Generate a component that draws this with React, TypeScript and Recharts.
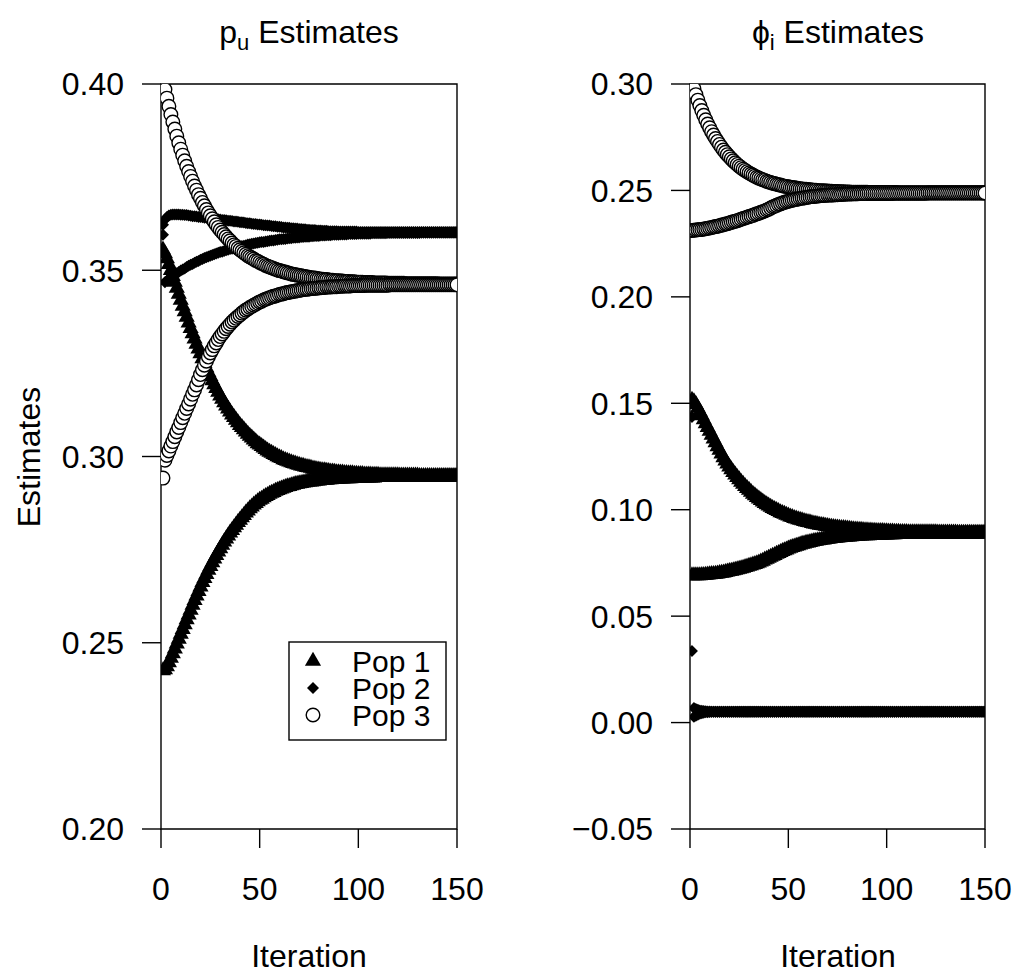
import React from "react";
import { ScatterChart, Scatter, XAxis, YAxis, ReferenceArea } from "recharts";

// p_u estimates (left panel), two starting points per population
const PU_POP1_A = [
  0.3555, 0.3545, 0.3531, 0.3516, 0.35, 0.3484, 0.3468, 0.3452, 0.3436, 0.342,
  0.3404, 0.3389, 0.3374, 0.3359, 0.3344, 0.333, 0.3316, 0.3302, 0.3289, 0.3276,
  0.3263, 0.325, 0.3238, 0.3226, 0.3215, 0.3204, 0.3193, 0.3183, 0.3173, 0.3163,
  0.3154, 0.3145, 0.3136, 0.3128, 0.312, 0.3112, 0.3105, 0.3098, 0.3091, 0.3084,
  0.3078, 0.3072, 0.3066, 0.306, 0.3055, 0.305, 0.3045, 0.304, 0.3035, 0.3031,
  0.3027, 0.3023, 0.3019, 0.3015, 0.3012, 0.3009, 0.3006, 0.3003, 0.3, 0.2997,
  0.2995, 0.2992, 0.299, 0.2988, 0.2986, 0.2984, 0.2982, 0.298, 0.2978, 0.2977,
  0.2975, 0.2974, 0.2972, 0.2971, 0.297, 0.2969, 0.2967, 0.2966, 0.2965, 0.2964,
  0.2963, 0.2962, 0.2962, 0.2961, 0.296, 0.2959, 0.2959, 0.2958, 0.2957, 0.2957,
  0.2956, 0.2956, 0.2955, 0.2955, 0.2954, 0.2954, 0.2954, 0.2953, 0.2953, 0.2952,
  0.2952, 0.2952, 0.2951, 0.2951, 0.2951, 0.2951, 0.295, 0.295, 0.295, 0.295,
  0.2949, 0.2949, 0.2949, 0.2949, 0.2949, 0.2949, 0.2949, 0.2949, 0.2949, 0.2949,
  0.2948, 0.2948, 0.2948, 0.2948, 0.2948, 0.2948, 0.2948, 0.2948, 0.2948, 0.2948,
  0.2947, 0.2947, 0.2947, 0.2947, 0.2947, 0.2947, 0.2947, 0.2947, 0.2947, 0.2947,
  0.2947, 0.2947, 0.2947, 0.2947, 0.2947, 0.2947, 0.2947, 0.2947, 0.2947, 0.2947,
];
const PU_POP1_B = [
  0.2425, 0.2428, 0.2436, 0.2447, 0.2459, 0.2471, 0.2484, 0.2497, 0.251, 0.2523,
  0.2536, 0.2549, 0.2562, 0.2575, 0.2588, 0.2601, 0.2614, 0.2626, 0.2638, 0.265,
  0.2662, 0.2673, 0.2684, 0.2695, 0.2705, 0.2715, 0.2725, 0.2735, 0.2744, 0.2753,
  0.2762, 0.2771, 0.2779, 0.2787, 0.2795, 0.2802, 0.2809, 0.2816, 0.2823, 0.2829,
  0.2836, 0.2842, 0.2849, 0.2854, 0.286, 0.2865, 0.287, 0.2874, 0.2879, 0.2883,
  0.2886, 0.289, 0.2893, 0.2896, 0.2899, 0.2902, 0.2904, 0.2907, 0.2909, 0.2911,
  0.2913, 0.2915, 0.2917, 0.2919, 0.292, 0.2922, 0.2923, 0.2925, 0.2926, 0.2927,
  0.2928, 0.2929, 0.293, 0.2931, 0.2932, 0.2932, 0.2933, 0.2934, 0.2935, 0.2935,
  0.2936, 0.2936, 0.2937, 0.2937, 0.2938, 0.2938, 0.2939, 0.2939, 0.2939, 0.294,
  0.294, 0.294, 0.2941, 0.2941, 0.2941, 0.2941, 0.2942, 0.2942, 0.2942, 0.2942,
  0.2942, 0.2943, 0.2943, 0.2943, 0.2943, 0.2943, 0.2943, 0.2943, 0.2944, 0.2944,
  0.2944, 0.2944, 0.2944, 0.2944, 0.2944, 0.2944, 0.2944, 0.2944, 0.2944, 0.2944,
  0.2944, 0.2944, 0.2944, 0.2944, 0.2944, 0.2945, 0.2945, 0.2945, 0.2945, 0.2945,
  0.2945, 0.2945, 0.2945, 0.2945, 0.2945, 0.2945, 0.2945, 0.2945, 0.2945, 0.2945,
  0.2945, 0.2945, 0.2945, 0.2945, 0.2945, 0.2945, 0.2945, 0.2945, 0.2945, 0.2945,
];
const PU_POP2_A = [
  0.3622, 0.3636, 0.3643, 0.3647, 0.3649, 0.365, 0.365, 0.365, 0.365, 0.3649,
  0.3649, 0.3648, 0.3648, 0.3647, 0.3646, 0.3645, 0.3645, 0.3644, 0.3643, 0.3643,
  0.3642, 0.3641, 0.3641, 0.364, 0.3639, 0.3639, 0.3638, 0.3637, 0.3637, 0.3636,
  0.3635, 0.3635, 0.3634, 0.3633, 0.3633, 0.3632, 0.3631, 0.3631, 0.363, 0.3629,
  0.3629, 0.3628, 0.3627, 0.3626, 0.3626, 0.3625, 0.3624, 0.3624, 0.3623, 0.3623,
  0.3622, 0.3621, 0.3621, 0.362, 0.362, 0.3619, 0.3618, 0.3618, 0.3617, 0.3617,
  0.3616, 0.3615, 0.3615, 0.3614, 0.3614, 0.3613, 0.3613, 0.3612, 0.3612, 0.3611,
  0.3611, 0.361, 0.361, 0.3609, 0.3609, 0.3608, 0.3608, 0.3608, 0.3607, 0.3607,
  0.3607, 0.3606, 0.3606, 0.3606, 0.3605, 0.3605, 0.3605, 0.3605, 0.3605, 0.3604,
  0.3604, 0.3604, 0.3604, 0.3604, 0.3604, 0.3604, 0.3604, 0.3604, 0.3604, 0.3603,
  0.3603, 0.3603, 0.3603, 0.3603, 0.3603, 0.3603, 0.3603, 0.3603, 0.3603, 0.3603,
  0.3603, 0.3603, 0.3603, 0.3603, 0.3603, 0.3603, 0.3603, 0.3603, 0.3603, 0.3603,
  0.3603, 0.3603, 0.3603, 0.3603, 0.3603, 0.3603, 0.3603, 0.3603, 0.3603, 0.3603,
  0.3603, 0.3603, 0.3603, 0.3603, 0.3603, 0.3603, 0.3603, 0.3603, 0.3603, 0.3603,
  0.3603, 0.3603, 0.3603, 0.3603, 0.3603, 0.3603, 0.3603, 0.3603, 0.3603, 0.3603,
];
const PU_POP2_B = [
  0.3595, 0.3468, 0.3472, 0.3477, 0.3481, 0.3485, 0.3488, 0.3492, 0.3495, 0.3499,
  0.3502, 0.3505, 0.3509, 0.3512, 0.3515, 0.3517, 0.352, 0.3523, 0.3525, 0.3528,
  0.353, 0.3533, 0.3535, 0.3537, 0.3539, 0.3541, 0.3543, 0.3545, 0.3547, 0.3549,
  0.355, 0.3552, 0.3554, 0.3555, 0.3557, 0.3558, 0.356, 0.3561, 0.3563, 0.3564,
  0.3565, 0.3566, 0.3567, 0.3569, 0.357, 0.3571, 0.3572, 0.3573, 0.3574, 0.3575,
  0.3576, 0.3576, 0.3577, 0.3578, 0.3579, 0.358, 0.358, 0.3581, 0.3582, 0.3583,
  0.3583, 0.3584, 0.3584, 0.3585, 0.3586, 0.3586, 0.3587, 0.3587, 0.3588, 0.3588,
  0.3589, 0.3589, 0.359, 0.359, 0.359, 0.3591, 0.3591, 0.3592, 0.3592, 0.3592,
  0.3593, 0.3593, 0.3593, 0.3594, 0.3594, 0.3594, 0.3595, 0.3595, 0.3595, 0.3595,
  0.3596, 0.3596, 0.3596, 0.3596, 0.3597, 0.3597, 0.3597, 0.3597, 0.3597, 0.3598,
  0.3598, 0.3598, 0.3598, 0.3598, 0.3598, 0.3598, 0.3599, 0.3599, 0.3599, 0.3599,
  0.3599, 0.3599, 0.3599, 0.3599, 0.36, 0.36, 0.36, 0.36, 0.36, 0.36,
  0.36, 0.36, 0.36, 0.36, 0.36, 0.36, 0.36, 0.36, 0.36, 0.36,
  0.36, 0.3601, 0.3601, 0.3601, 0.3601, 0.3601, 0.3601, 0.3601, 0.3601, 0.3601,
  0.3601, 0.3601, 0.3601, 0.3601, 0.3601, 0.3601, 0.3601, 0.3601, 0.3601, 0.3601,
];
const PU_POP3_A = [
  0.4, 0.3985, 0.3962, 0.394, 0.3918, 0.3898, 0.3879, 0.386, 0.3842, 0.3825,
  0.3809, 0.3794, 0.3779, 0.3765, 0.3752, 0.3739, 0.3726, 0.3715, 0.3703, 0.3693,
  0.3682, 0.3673, 0.3663, 0.3654, 0.3646, 0.3638, 0.363, 0.3622, 0.3615, 0.3608,
  0.3602, 0.3596, 0.359, 0.3584, 0.3579, 0.3573, 0.3568, 0.3564, 0.3559, 0.3555,
  0.3551, 0.3547, 0.3543, 0.3539, 0.3536, 0.3533, 0.353, 0.3526, 0.3524, 0.3521,
  0.3518, 0.3516, 0.3513, 0.3511, 0.3509, 0.3507, 0.3505, 0.3503, 0.3501, 0.3499,
  0.3498, 0.3496, 0.3495, 0.3493, 0.3492, 0.349, 0.3489, 0.3488, 0.3487, 0.3486,
  0.3485, 0.3484, 0.3483, 0.3482, 0.3481, 0.348, 0.3479, 0.3479, 0.3478, 0.3477,
  0.3476, 0.3476, 0.3475, 0.3475, 0.3474, 0.3473, 0.3473, 0.3472, 0.3472, 0.3472,
  0.3471, 0.3471, 0.347, 0.347, 0.347, 0.3469, 0.3469, 0.3469, 0.3468, 0.3468,
  0.3468, 0.3468, 0.3467, 0.3467, 0.3467, 0.3467, 0.3467, 0.3466, 0.3466, 0.3466,
  0.3466, 0.3466, 0.3466, 0.3466, 0.3465, 0.3465, 0.3465, 0.3465, 0.3465, 0.3465,
  0.3465, 0.3465, 0.3465, 0.3464, 0.3464, 0.3464, 0.3464, 0.3464, 0.3464, 0.3464,
  0.3464, 0.3464, 0.3464, 0.3464, 0.3464, 0.3464, 0.3464, 0.3464, 0.3464, 0.3464,
  0.3463, 0.3463, 0.3463, 0.3463, 0.3463, 0.3463, 0.3463, 0.3463, 0.3463, 0.3463,
];
const PU_POP3_B = [
  0.2942, 0.299, 0.3003, 0.3015, 0.3028, 0.304, 0.3053, 0.3066, 0.3078, 0.3091,
  0.3104, 0.3116, 0.3129, 0.3141, 0.3154, 0.3167, 0.3179, 0.3192, 0.3206, 0.322,
  0.3233, 0.3245, 0.3256, 0.3267, 0.3278, 0.3287, 0.3297, 0.3305, 0.3314, 0.3322,
  0.3329, 0.3336, 0.3343, 0.3349, 0.3355, 0.3361, 0.3366, 0.3371, 0.3376, 0.338,
  0.3385, 0.3389, 0.3393, 0.3396, 0.34, 0.3403, 0.3406, 0.3409, 0.3412, 0.3415,
  0.3417, 0.342, 0.3422, 0.3424, 0.3426, 0.3428, 0.343, 0.3431, 0.3433, 0.3435,
  0.3436, 0.3437, 0.3439, 0.344, 0.3441, 0.3442, 0.3443, 0.3444, 0.3445, 0.3446,
  0.3447, 0.3448, 0.3449, 0.3449, 0.345, 0.3451, 0.3451, 0.3452, 0.3452, 0.3453,
  0.3453, 0.3454, 0.3454, 0.3455, 0.3455, 0.3455, 0.3456, 0.3456, 0.3456, 0.3457,
  0.3457, 0.3457, 0.3458, 0.3458, 0.3458, 0.3458, 0.3459, 0.3459, 0.3459, 0.3459,
  0.3459, 0.3459, 0.3459, 0.346, 0.346, 0.346, 0.346, 0.346, 0.346, 0.346,
  0.346, 0.346, 0.346, 0.346, 0.346, 0.3461, 0.3461, 0.3461, 0.3461, 0.3461,
  0.3461, 0.3461, 0.3461, 0.3461, 0.3461, 0.3461, 0.3461, 0.3461, 0.3461, 0.3461,
  0.3461, 0.3461, 0.3461, 0.3461, 0.3461, 0.3461, 0.3461, 0.3461, 0.3461, 0.3461,
  0.3461, 0.3461, 0.3461, 0.3461, 0.3461, 0.3461, 0.3461, 0.3461, 0.3461, 0.3461,
];

// phi_i estimates (right panel)
const PHI_POP1_A = [
  0.1515, 0.1508, 0.1495, 0.1478, 0.146, 0.1442, 0.1424, 0.1405, 0.1387, 0.1369,
  0.1351, 0.1333, 0.1315, 0.1297, 0.128, 0.1262, 0.1245, 0.123, 0.1216, 0.1202,
  0.1189, 0.1176, 0.1164, 0.1152, 0.1141, 0.113, 0.112, 0.111, 0.1101, 0.1092,
  0.1083, 0.1074, 0.1066, 0.1058, 0.1051, 0.1044, 0.1037, 0.103, 0.1024, 0.1018,
  0.1012, 0.1007, 0.1002, 0.0997, 0.0992, 0.0987, 0.0983, 0.0979, 0.0975, 0.0971,
  0.0967, 0.0964, 0.096, 0.0957, 0.0954, 0.0951, 0.0949, 0.0946, 0.0943, 0.0941,
  0.0939, 0.0936, 0.0934, 0.0932, 0.093, 0.0928, 0.0927, 0.0925, 0.0923, 0.0922,
  0.092, 0.0919, 0.0917, 0.0916, 0.0915, 0.0914, 0.0913, 0.0912, 0.0911, 0.091,
  0.0909, 0.0908, 0.0907, 0.0906, 0.0905, 0.0904, 0.0904, 0.0903, 0.0902, 0.0902,
  0.0901, 0.0901, 0.09, 0.09, 0.0899, 0.0899, 0.0898, 0.0898, 0.0897, 0.0897,
  0.0896, 0.0896, 0.0896, 0.0895, 0.0895, 0.0895, 0.0894, 0.0894, 0.0894, 0.0894,
  0.0893, 0.0893, 0.0893, 0.0893, 0.0893, 0.0892, 0.0892, 0.0892, 0.0892, 0.0892,
  0.0892, 0.0892, 0.0892, 0.0892, 0.0892, 0.0891, 0.0891, 0.0891, 0.0891, 0.0891,
  0.0891, 0.0891, 0.0891, 0.0891, 0.0891, 0.089, 0.089, 0.089, 0.089, 0.089,
  0.089, 0.089, 0.089, 0.089, 0.089, 0.089, 0.089, 0.089, 0.089, 0.089,
];
const PHI_POP1_B = [
  0.069, 0.069, 0.069, 0.0691, 0.0691, 0.0692, 0.0692, 0.0693, 0.0694, 0.0695,
  0.0696, 0.0697, 0.0698, 0.0699, 0.0701, 0.0702, 0.0704, 0.0706, 0.0708, 0.071,
  0.0712, 0.0714, 0.0716, 0.0719, 0.0721, 0.0724, 0.0726, 0.0729, 0.0732, 0.0735,
  0.0738, 0.0741, 0.0744, 0.0747, 0.075, 0.0755, 0.0759, 0.0764, 0.0768, 0.0773,
  0.0777, 0.0782, 0.0786, 0.0791, 0.0795, 0.08, 0.0804, 0.0808, 0.0812, 0.0816,
  0.082, 0.0823, 0.0826, 0.0829, 0.0832, 0.0835, 0.0838, 0.084, 0.0843, 0.0845,
  0.0847, 0.0849, 0.0851, 0.0853, 0.0855, 0.0856, 0.0858, 0.0859, 0.0861, 0.0862,
  0.0863, 0.0865, 0.0866, 0.0867, 0.0868, 0.0869, 0.087, 0.0871, 0.0872, 0.0873,
  0.0873, 0.0874, 0.0875, 0.0875, 0.0876, 0.0877, 0.0877, 0.0878, 0.0878, 0.0879,
  0.0879, 0.088, 0.088, 0.088, 0.0881, 0.0881, 0.0881, 0.0882, 0.0882, 0.0882,
  0.0883, 0.0883, 0.0883, 0.0883, 0.0884, 0.0884, 0.0884, 0.0884, 0.0884, 0.0885,
  0.0885, 0.0885, 0.0885, 0.0885, 0.0885, 0.0886, 0.0886, 0.0886, 0.0886, 0.0886,
  0.0886, 0.0886, 0.0886, 0.0886, 0.0886, 0.0886, 0.0886, 0.0886, 0.0886, 0.0886,
  0.0887, 0.0887, 0.0887, 0.0887, 0.0887, 0.0887, 0.0887, 0.0887, 0.0887, 0.0887,
  0.0887, 0.0887, 0.0887, 0.0887, 0.0887, 0.0887, 0.0887, 0.0887, 0.0887, 0.0887,
];
const PHI_POP2_A = [
  0.1436, 0.0027, 0.0032, 0.0037, 0.0041, 0.0044, 0.0046, 0.0048, 0.0049, 0.005,
  0.0051, 0.0051, 0.0051, 0.0051, 0.0051, 0.0051, 0.0051, 0.0051, 0.0051, 0.0051,
  0.0051, 0.0051, 0.0051, 0.0051, 0.0051, 0.0051, 0.0051, 0.0051, 0.0051, 0.0051,
  0.0051, 0.0051, 0.0051, 0.0051, 0.0051, 0.0051, 0.0051, 0.0051, 0.0051, 0.0051,
  0.0051, 0.0051, 0.0051, 0.0051, 0.0051, 0.0051, 0.0051, 0.0051, 0.0051, 0.0051,
  0.0051, 0.0051, 0.0051, 0.0051, 0.0051, 0.0051, 0.0051, 0.0051, 0.0051, 0.0051,
  0.0051, 0.0051, 0.0051, 0.0051, 0.0051, 0.0051, 0.0051, 0.0051, 0.0051, 0.0051,
  0.0051, 0.0051, 0.0051, 0.0051, 0.0051, 0.0051, 0.0051, 0.0051, 0.0051, 0.0051,
  0.0051, 0.0051, 0.0051, 0.0051, 0.0051, 0.0051, 0.0051, 0.0051, 0.0051, 0.0051,
  0.0051, 0.0051, 0.0051, 0.0051, 0.0051, 0.0051, 0.0051, 0.0051, 0.0051, 0.0051,
  0.0051, 0.0051, 0.0051, 0.0051, 0.0051, 0.0051, 0.0051, 0.0051, 0.0051, 0.0051,
  0.0051, 0.0051, 0.0051, 0.0051, 0.0051, 0.0051, 0.0051, 0.0051, 0.0051, 0.0051,
  0.0051, 0.0051, 0.0051, 0.0051, 0.0051, 0.0051, 0.0051, 0.0051, 0.0051, 0.0051,
  0.0051, 0.0051, 0.0051, 0.0051, 0.0051, 0.0051, 0.0051, 0.0051, 0.0051, 0.0051,
  0.0051, 0.0051, 0.0051, 0.0051, 0.0051, 0.0051, 0.0051, 0.0051, 0.0051, 0.0051,
];
const PHI_POP2_B = [
  0.0336, 0.0068, 0.0064, 0.006, 0.0057, 0.0055, 0.0054, 0.0053, 0.0052, 0.0052,
  0.0051, 0.0051, 0.0051, 0.0051, 0.0051, 0.0051, 0.0051, 0.0051, 0.0051, 0.0051,
  0.0051, 0.0051, 0.0051, 0.0051, 0.0051, 0.0051, 0.0051, 0.0051, 0.0051, 0.0051,
  0.0051, 0.0051, 0.0051, 0.0051, 0.0051, 0.0051, 0.0051, 0.0051, 0.0051, 0.0051,
  0.0051, 0.0051, 0.0051, 0.0051, 0.0051, 0.0051, 0.0051, 0.0051, 0.0051, 0.0051,
  0.0051, 0.0051, 0.0051, 0.0051, 0.0051, 0.0051, 0.0051, 0.0051, 0.0051, 0.0051,
  0.0051, 0.0051, 0.0051, 0.0051, 0.0051, 0.0051, 0.0051, 0.0051, 0.0051, 0.0051,
  0.0051, 0.0051, 0.0051, 0.0051, 0.0051, 0.0051, 0.0051, 0.0051, 0.0051, 0.0051,
  0.0051, 0.0051, 0.0051, 0.0051, 0.0051, 0.0051, 0.0051, 0.0051, 0.0051, 0.0051,
  0.0051, 0.0051, 0.0051, 0.0051, 0.0051, 0.0051, 0.0051, 0.0051, 0.0051, 0.0051,
  0.0051, 0.0051, 0.0051, 0.0051, 0.0051, 0.0051, 0.0051, 0.0051, 0.0051, 0.0051,
  0.0051, 0.0051, 0.0051, 0.0051, 0.0051, 0.0051, 0.0051, 0.0051, 0.0051, 0.0051,
  0.0051, 0.0051, 0.0051, 0.0051, 0.0051, 0.0051, 0.0051, 0.0051, 0.0051, 0.0051,
  0.0051, 0.0051, 0.0051, 0.0051, 0.0051, 0.0051, 0.0051, 0.0051, 0.0051, 0.0051,
  0.0051, 0.0051, 0.0051, 0.0051, 0.0051, 0.0051, 0.0051, 0.0051, 0.0051, 0.0051,
];
const PHI_POP3_A = [
  0.3008, 0.2978, 0.295, 0.2924, 0.2899, 0.2875, 0.2853, 0.2832, 0.2812, 0.2794,
  0.2776, 0.276, 0.2744, 0.273, 0.2716, 0.2703, 0.269, 0.2679, 0.2668, 0.2658,
  0.2648, 0.2639, 0.263, 0.2622, 0.2614, 0.2607, 0.26, 0.2594, 0.2588, 0.2582,
  0.2577, 0.2572, 0.2567, 0.2562, 0.2558, 0.2554, 0.255, 0.2547, 0.2543, 0.254,
  0.2537, 0.2534, 0.2532, 0.2529, 0.2527, 0.2525, 0.2522, 0.252, 0.2519, 0.2517,
  0.2515, 0.2514, 0.2512, 0.2511, 0.2509, 0.2508, 0.2507, 0.2506, 0.2505, 0.2504,
  0.2503, 0.2502, 0.2501, 0.2501, 0.25, 0.2499, 0.2499, 0.2498, 0.2497, 0.2497,
  0.2496, 0.2496, 0.2495, 0.2495, 0.2495, 0.2494, 0.2494, 0.2494, 0.2493, 0.2493,
  0.2493, 0.2492, 0.2492, 0.2492, 0.2492, 0.2491, 0.2491, 0.2491, 0.2491, 0.2491,
  0.249, 0.249, 0.249, 0.249, 0.249, 0.249, 0.249, 0.249, 0.249, 0.249,
  0.249, 0.249, 0.249, 0.249, 0.249, 0.2489, 0.2489, 0.2489, 0.2489, 0.2489,
  0.2489, 0.2489, 0.2489, 0.2489, 0.2489, 0.2489, 0.2489, 0.2489, 0.2489, 0.2489,
  0.2489, 0.2489, 0.2489, 0.2489, 0.2489, 0.2489, 0.2489, 0.2489, 0.2489, 0.2489,
  0.2489, 0.2489, 0.2489, 0.2489, 0.2489, 0.2489, 0.2489, 0.2489, 0.2489, 0.2489,
  0.2489, 0.2489, 0.2489, 0.2489, 0.2489, 0.2489, 0.2489, 0.2489, 0.2489, 0.2489,
];
const PHI_POP3_B = [
  0.2312, 0.2313, 0.2314, 0.2315, 0.2316, 0.2317, 0.2319, 0.232, 0.2322, 0.2324,
  0.2326, 0.2328, 0.233, 0.2332, 0.2334, 0.2337, 0.2339, 0.2342, 0.2344, 0.2347,
  0.235, 0.2353, 0.2355, 0.2358, 0.2361, 0.2365, 0.2368, 0.2371, 0.2374, 0.2377,
  0.238, 0.2383, 0.2387, 0.239, 0.2393, 0.2397, 0.24, 0.2404, 0.2408, 0.2412,
  0.2417, 0.2422, 0.2426, 0.243, 0.2434, 0.2437, 0.2441, 0.2444, 0.2447, 0.2449,
  0.2452, 0.2454, 0.2456, 0.2458, 0.246, 0.2462, 0.2464, 0.2465, 0.2467, 0.2468,
  0.247, 0.2471, 0.2472, 0.2473, 0.2474, 0.2475, 0.2476, 0.2476, 0.2477, 0.2478,
  0.2478, 0.2479, 0.2479, 0.248, 0.248, 0.2481, 0.2481, 0.2482, 0.2482, 0.2483,
  0.2483, 0.2483, 0.2484, 0.2484, 0.2484, 0.2485, 0.2485, 0.2485, 0.2485, 0.2485,
  0.2486, 0.2486, 0.2486, 0.2486, 0.2486, 0.2486, 0.2486, 0.2486, 0.2486, 0.2486,
  0.2486, 0.2486, 0.2486, 0.2487, 0.2487, 0.2487, 0.2487, 0.2487, 0.2487, 0.2487,
  0.2487, 0.2487, 0.2487, 0.2487, 0.2487, 0.2487, 0.2487, 0.2487, 0.2487, 0.2487,
  0.2488, 0.2488, 0.2488, 0.2488, 0.2488, 0.2488, 0.2488, 0.2488, 0.2488, 0.2488,
  0.2488, 0.2488, 0.2488, 0.2488, 0.2488, 0.2488, 0.2488, 0.2488, 0.2488, 0.2488,
  0.2488, 0.2488, 0.2488, 0.2488, 0.2488, 0.2488, 0.2488, 0.2488, 0.2488, 0.2488,
];

const X_TICKS = [0, 50, 100, 150];
const PU_TICKS = [0.2, 0.25, 0.3, 0.35, 0.4];
const PHI_TICKS = [-0.05, 0, 0.05, 0.1, 0.15, 0.2, 0.25, 0.3];
const LEGEND_LABELS = ["Pop 1", "Pop 2", "Pop 3"];

const FONT = '"Liberation Sans", Arial, Helvetica, sans-serif';
const FONT_SIZE = 32;
const SYM = 16; // symbol size, px
const CIRCLE_R = 6.8;

const toPoints = (values: number[]) => values.map((y, i) => ({ x: i + 1, y }));

const triPath = (cx: number, cy: number) =>
  `M${cx},${cy - 0.583 * SYM}L${cx + 0.505 * SYM},${cy + 0.292 * SYM}L${cx - 0.505 * SYM},${cy + 0.292 * SYM}Z`;
const diaPath = (cx: number, cy: number) => {
  const h = 0.375 * SYM;
  return `M${cx},${cy - h}L${cx + h},${cy}L${cx},${cy + h}L${cx - h},${cy}Z`;
};

// shapes clipped to the plot region, like R's default xpd = FALSE
const makeShapes = (clipId: string) => ({
  triangle: (p: any) => (
    <g clipPath={`url(#${clipId})`}>
      <path d={triPath(p.cx, p.cy)} fill="#000" />
    </g>
  ),
  diamond: (p: any) => (
    <g clipPath={`url(#${clipId})`}>
      <path d={diaPath(p.cx, p.cy)} fill="#000" />
    </g>
  ),
  circle: (p: any) => (
    <g clipPath={`url(#${clipId})`}>
      <circle cx={p.cx} cy={p.cy} r={CIRCLE_R} fill="#fff" stroke="#000" strokeWidth={1.4} />
    </g>
  ),
});

const fmt = (v: number) => (v < 0 ? "\u2212" + Math.abs(v).toFixed(2) : v.toFixed(2));

const tickStyle = { fill: "#000", fontSize: FONT_SIZE, fontFamily: FONT };

const PLOT_TOP = 84;
const PLOT_BOTTOM = 829;

interface PanelProps {
  left: number;
  plotLeft: number;
  plotRight: number;
  domain: [number, number];
  ticks: number[];
  clipId: string;
  series: { values: number[]; kind: "triangle" | "diamond" | "circle" }[];
}

const Panel = ({ left, plotLeft, plotRight, domain, ticks, clipId, series }: PanelProps) => {
  const W = 508;
  const yAxisW = 100;
  const xAxisH = 100;
  const shapes = makeShapes(clipId);
  return (
    <div style={{ position: "absolute", left, top: 0 }}>
      <svg width={0} height={0} style={{ position: "absolute" }}>
        <defs>
          <clipPath id={clipId}>
            <rect x={plotLeft} y={PLOT_TOP} width={plotRight - plotLeft} height={PLOT_BOTTOM - PLOT_TOP} />
          </clipPath>
        </defs>
      </svg>
      <ScatterChart
        width={W}
        height={980}
        margin={{ top: PLOT_TOP, right: W - plotRight, bottom: 980 - PLOT_BOTTOM - xAxisH, left: plotLeft - yAxisW }}
      >
        <XAxis
          type="number"
          dataKey="x"
          domain={[0, 150]}
          allowDataOverflow
          ticks={X_TICKS}
          height={xAxisH}
          axisLine={false}
          tickLine={{ stroke: "#000", strokeWidth: 1.4 }}
          tickSize={19}
          tickMargin={29}
          tick={tickStyle}
          interval={0}
        />
        <YAxis
          type="number"
          dataKey="y"
          domain={domain}
          allowDataOverflow
          ticks={ticks}
          width={yAxisW}
          axisLine={false}
          tickLine={{ stroke: "#000", strokeWidth: 1.4 }}
          tickSize={19}
          tickMargin={18}
          tick={tickStyle}
          tickFormatter={fmt}
          interval={0}
        />
        {series.map((s, i) => (
          <Scatter key={i} data={toPoints(s.values)} shape={shapes[s.kind]} isAnimationActive={false} />
        ))}
        <ReferenceArea
          x1={0}
          x2={150}
          y1={domain[0]}
          y2={domain[1]}
          fill="none"
          stroke="#000"
          strokeWidth={1.4}
          ifOverflow="visible"
        />
      </ScatterChart>
    </div>
  );
};

const App = () => {
  const legendShapes = [
    (y: number) => <path d={triPath(313, y)} fill="#000" />,
    (y: number) => <path d={diaPath(313, y)} fill="#000" />,
    (y: number) => <circle cx={313} cy={y} r={CIRCLE_R} fill="#fff" stroke="#000" strokeWidth={1.4} />,
  ];
  return (
    <div style={{ position: "absolute", left: 0, top: 0, width: 1016, height: 980, background: "#fff" }}>
      <Panel
        left={0}
        plotLeft={161}
        plotRight={457}
        domain={[0.2, 0.4]}
        ticks={PU_TICKS}
        clipId="clip-pu"
        series={[
          { values: PU_POP2_A, kind: "diamond" },
          { values: PU_POP2_B, kind: "diamond" },
          { values: PU_POP1_A, kind: "triangle" },
          { values: PU_POP1_B, kind: "triangle" },
          { values: PU_POP3_A, kind: "circle" },
          { values: PU_POP3_B, kind: "circle" },
        ]}
      />
      <Panel
        left={508}
        plotLeft={182}
        plotRight={477}
        domain={[-0.05, 0.3]}
        ticks={PHI_TICKS}
        clipId="clip-phi"
        series={[
          { values: PHI_POP2_A, kind: "diamond" },
          { values: PHI_POP2_B, kind: "diamond" },
          { values: PHI_POP1_A, kind: "triangle" },
          { values: PHI_POP1_B, kind: "triangle" },
          { values: PHI_POP3_A, kind: "circle" },
          { values: PHI_POP3_B, kind: "circle" },
        ]}
      />
      <svg
        width={1016}
        height={980}
        style={{ position: "absolute", left: 0, top: 0, pointerEvents: "none" }}
        fontFamily={FONT}
        fontSize={FONT_SIZE}
      >
        <text x={309} y={43} textAnchor="middle">
          p<tspan dy={7} fontSize={22}>u</tspan>
          <tspan dy={-7}> Estimates</tspan>
        </text>
        <text x={838} y={43} textAnchor="middle">
          {"\u03D5"}
          <tspan dy={7} fontSize={22}>i</tspan>
          <tspan dy={-7}> Estimates</tspan>
        </text>
        <text transform="translate(40,457) rotate(-90)" textAnchor="middle">
          Estimates
        </text>
        <text x={309} y={967} textAnchor="middle">Iteration</text>
        <text x={838} y={967} textAnchor="middle">Iteration</text>
        <rect x={289} y={642} width={157} height={98} fill="#fff" stroke="#000" strokeWidth={1.4} />
        {LEGEND_LABELS.map((label, i) => {
          const y = 661 + i * 27;
          return (
            <g key={label}>
              {legendShapes[i](y)}
              <text x={352} y={y + 11} fontSize={30}>{label}</text>
            </g>
          );
        })}
      </svg>
    </div>
  );
};

export default App;
